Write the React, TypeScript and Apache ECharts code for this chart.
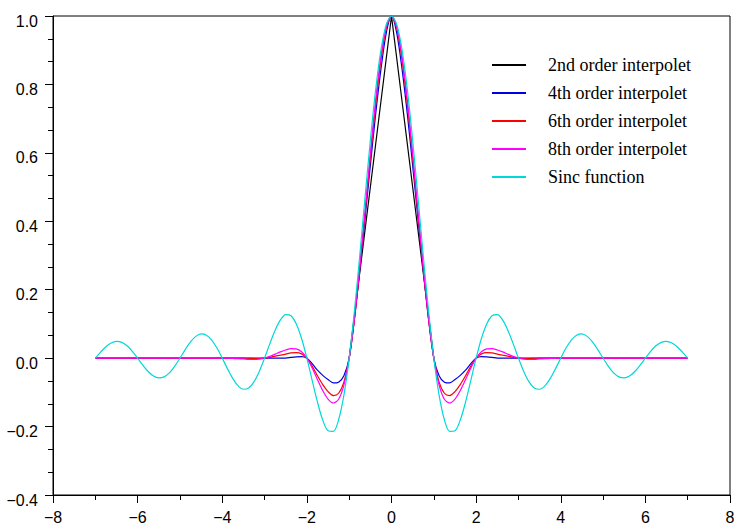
import React, { useEffect, useRef } from "react";
import * as echarts from "echarts";

// x positions (step 0.125 from -7 to 7)
const xs = [
  -7, -6.875, -6.75, -6.625, -6.5, -6.375, -6.25, -6.125,
  -6, -5.875, -5.75, -5.625, -5.5, -5.375, -5.25, -5.125,
  -5, -4.875, -4.75, -4.625, -4.5, -4.375, -4.25, -4.125,
  -4, -3.875, -3.75, -3.625, -3.5, -3.375, -3.25, -3.125,
  -3, -2.875, -2.75, -2.625, -2.5, -2.375, -2.25, -2.125,
  -2, -1.875, -1.75, -1.625, -1.5, -1.375, -1.25, -1.125,
  -1, -0.875, -0.75, -0.625, -0.5, -0.375, -0.25, -0.125,
  0,
  0.125, 0.25, 0.375, 0.5, 0.625, 0.75, 0.875, 1,
  1.125, 1.25, 1.375, 1.5, 1.625, 1.75, 1.875, 2,
  2.125, 2.25, 2.375, 2.5, 2.625, 2.75, 2.875, 3,
  3.125, 3.25, 3.375, 3.5, 3.625, 3.75, 3.875, 4,
  4.125, 4.25, 4.375, 4.5, 4.625, 4.75, 4.875, 5,
  5.125, 5.25, 5.375, 5.5, 5.625, 5.75, 5.875, 6,
  6.125, 6.25, 6.375, 6.5, 6.625, 6.75, 6.875, 7,
];

// 2nd order interpolet (hat), drawn only over its support
const order2X = [-1, 0, 1];
const order2 = [0, 1, 0];

const order4 = [
  0, 0, 0, 0, 0, 0, 0, 0,
  0, 0, 0, 0, 0, 0, 0, 0,
  0, 0, 0, 0, 0, 0, 0, 0,
  0, 0, 0, 0, 0, 0, 0, 0,
  0, 0, 0, -0.0002, 0, 0.0022, 0.0039, 0.0044,
  0, -0.0161, -0.0352, -0.0505, -0.0625, -0.0725, -0.0703, -0.0518,
  0, 0.1143, 0.2578, 0.4087, 0.5625, 0.7124, 0.8438, 0.9492,
  1,
  0.9492, 0.8438, 0.7124, 0.5625, 0.4087, 0.2578, 0.1143, 0,
  -0.0518, -0.0703, -0.0725, -0.0625, -0.0505, -0.0352, -0.0161, 0,
  0.0044, 0.0039, 0.0022, 0, -0.0002, 0, 0, 0,
  0, 0, 0, 0, 0, 0, 0, 0,
  0, 0, 0, 0, 0, 0, 0, 0,
  0, 0, 0, 0, 0, 0, 0, 0,
  0, 0, 0, 0, 0, 0, 0, 0,
];

const order6 = [
  0, 0, 0, 0, 0, 0, 0, 0,
  0, 0, 0, 0, 0, 0, 0, 0,
  0, 0, 0, 0, 0, 0, 0, 0,
  0, 0, 0, 0, 0, -0.0006, -0.0011, -0.0011,
  0, 0.0025, 0.0057, 0.0086, 0.0117, 0.0153, 0.0164, 0.0124,
  0, -0.0233, -0.0515, -0.0772, -0.0977, -0.1093, -0.1026, -0.0699,
  0, 0.1154, 0.2621, 0.4223, 0.5859, 0.7405, 0.8708, 0.9639,
  1,
  0.9639, 0.8708, 0.7405, 0.5859, 0.4223, 0.2621, 0.1154, 0,
  -0.0699, -0.1026, -0.1093, -0.0977, -0.0772, -0.0515, -0.0233, 0,
  0.0124, 0.0164, 0.0153, 0.0117, 0.0086, 0.0057, 0.0025, 0,
  -0.0011, -0.0011, -0.0006, 0, 0, 0, 0, 0,
  0, 0, 0, 0, 0, 0, 0, 0,
  0, 0, 0, 0, 0, 0, 0, 0,
  0, 0, 0, 0, 0, 0, 0, 0,
];

const order8 = [
  0, 0, 0, 0, 0, 0, 0, 0,
  0, 0, 0, 0, 0, 0, 0, 0,
  0, 0, 0, 0, 0, 0, 0, 0,
  0, -0.0004, -0.0009, -0.0015, -0.0024, -0.0035, -0.004, -0.003,
  0, 0.0052, 0.0117, 0.0182, 0.0239, 0.0279, 0.0271, 0.0185,
  0, -0.0287, -0.0625, -0.0947, -0.1196, -0.1311, -0.1201, -0.0788,
  0, 0.1183, 0.2667, 0.431, 0.5981, 0.7536, 0.8818, 0.9686,
  1,
  0.9686, 0.8818, 0.7536, 0.5981, 0.431, 0.2667, 0.1183, 0,
  -0.0788, -0.1201, -0.1311, -0.1196, -0.0947, -0.0625, -0.0287, 0,
  0.0185, 0.0271, 0.0279, 0.0239, 0.0182, 0.0117, 0.0052, 0,
  -0.003, -0.004, -0.0035, -0.0024, -0.0015, -0.0009, -0.0004, 0,
  0, 0, 0, 0, 0, 0, 0, 0,
  0, 0, 0, 0, 0, 0, 0, 0,
  0, 0, 0, 0, 0, 0, 0, 0,
];

const sinc = [
  0, 0.0177, 0.0334, 0.0444, 0.049, 0.0461, 0.036, 0.0199,
  0, -0.0207, -0.0391, -0.0523, -0.0579, -0.0547, -0.0429, -0.0238,
  0, 0.025, 0.0474, 0.0636, 0.0707, 0.0672, 0.053, 0.0295,
  0, -0.0314, -0.06, -0.0811, -0.0909, -0.0871, -0.0693, -0.039,
  0, 0.0424, 0.0818, 0.112, 0.1273, 0.1238, 0.1, 0.0573,
  0, -0.065, -0.1286, -0.181, -0.2122, -0.2139, -0.1801, -0.1083,
  0, 0.1392, 0.3001, 0.4705, 0.6366, 0.7842, 0.9003, 0.9745,
  1,
  0.9745, 0.9003, 0.7842, 0.6366, 0.4705, 0.3001, 0.1392, 0,
  -0.1083, -0.1801, -0.2139, -0.2122, -0.181, -0.1286, -0.065, 0,
  0.0573, 0.1, 0.1238, 0.1273, 0.112, 0.0818, 0.0424, 0,
  -0.039, -0.0693, -0.0871, -0.0909, -0.0811, -0.06, -0.0314, 0,
  0.0295, 0.053, 0.0672, 0.0707, 0.0636, 0.0474, 0.025, 0,
  -0.0238, -0.0429, -0.0547, -0.0579, -0.0523, -0.0391, -0.0207, 0,
  0.0199, 0.036, 0.0461, 0.049, 0.0444, 0.0334, 0.0177, 0,
];

const seriesNames = [
  "2nd order interpolet",
  "4th order interpolet",
  "6th order interpolet",
  "8th order interpolet",
  "Sinc function",
];
const seriesColors = ["#000000", "#0000e0", "#ff0000", "#ff00ff", "#00d8d8"];
const seriesX = [order2X, xs, xs, xs, xs];
const seriesValues = [order2, order4, order6, order8, sinc];

const fmt = (v: number, d: number) => v.toFixed(d).replace("-", "\u2212");

export default function App() {
  const ref = useRef<HTMLDivElement>(null);
  useEffect(() => {
    document.body.style.margin = "0";
    const chart = echarts.init(ref.current!, null, { renderer: "svg" });
    const axisCommon = {
      axisLine: { show: true, onZero: false, lineStyle: { color: "#000", width: 1 } },
      axisTick: { show: true, inside: false, length: 8, lineStyle: { color: "#000", width: 1 } },
      minorTick: { show: true, length: 5, lineStyle: { color: "#000", width: 1 } },
      splitLine: { show: false },
      minorSplitLine: { show: false },
    };
    chart.setOption({
      animation: false,
      backgroundColor: "#fff",
      grid: {
        left: 53,
        right: 4,
        top: 16,
        bottom: 31,
        containLabel: false,
        outerBoundsMode: "none",
        show: true,
        borderColor: "#000",
        borderWidth: 1,
      },
      xAxis: {
        type: "value",
        min: -8,
        max: 8,
        interval: 2,
        ...axisCommon,
        minorTick: { ...axisCommon.minorTick, splitNumber: 2 },
        axisLabel: {
          margin: 16,
          color: "#000",
          fontFamily: "Liberation Sans",
          fontSize: 16,
          lineHeight: 12,
          verticalAlign: "top",
          hideOverlap: false,
          formatter: (v: number) => fmt(v, 0),
        },
      },
      yAxis: {
        type: "value",
        min: -0.4,
        max: 1.0,
        interval: 0.2,
        ...axisCommon,
        minorTick: { ...axisCommon.minorTick, splitNumber: 3 },
        axisLabel: {
          margin: 15,
          color: "#000",
          fontFamily: "Liberation Sans",
          fontSize: 16,
          hideOverlap: false,
          formatter: (v: number) => "{t|" + fmt(v, 1) + "}",
          rich: {
            t: {
              fontFamily: "Liberation Sans",
              fontSize: 16,
              lineHeight: 16,
              color: "#000",
              padding: [10, 0, 0, 0],
            },
          },
        },
      },
      legend: {
        orient: "vertical",
        left: 492,
        top: 56,
        padding: 0,
        itemWidth: 34,
        itemHeight: 2,
        itemGap: 10,
        icon: "rect",
        data: seriesNames,
        textStyle: {
          fontFamily: "Liberation Serif",
          fontSize: 18,
          lineHeight: 18,
          color: "#000",
          padding: [0, 0, 0, 17],
        },
      },
      series: seriesNames.map((name, i) => ({
        name,
        type: "line",
        data: seriesX[i].map((x, j) => [x, seriesValues[i][j]]),
        showSymbol: false,
        symbol: "none",
        smooth: i === 0 ? false : 0.3,
        lineStyle: { color: seriesColors[i], width: 1.2 },
        itemStyle: { color: seriesColors[i] },
      })),
    });
    return () => chart.dispose();
  }, []);
  return (
    <div
      ref={ref}
      style={{ position: "fixed", left: 0, top: 0, width: 734, height: 526 }}
    />
  );
}
